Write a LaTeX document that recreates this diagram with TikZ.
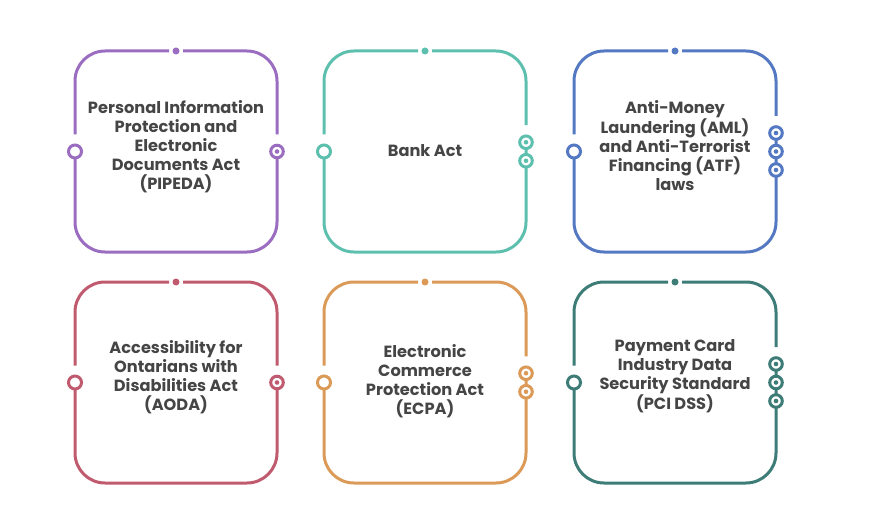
\documentclass[tikz,border=0pt]{standalone}
\usepackage{fontspec}
\setmainfont{Poppins}
\definecolor{lilac}{HTML}{9A6DC0}
\definecolor{sea}{HTML}{5DBFAE}
\definecolor{steel}{HTML}{5479C2}
\definecolor{rose}{HTML}{C05A6E}
\definecolor{amber}{HTML}{DB9A58}
\definecolor{pine}{HTML}{3E7D77}
\definecolor{ink}{HTML}{454545}
\tikzset{frame/.style={line width=3pt, rounded corners=30pt},
         ring/.style={line width=3pt, fill=white},
         lawtext/.style={align=center, text=ink, font=\bfseries\fontsize{16.2}{19}\selectfont}}

\begin{document}
\begin{tikzpicture}[x=1pt,y=1pt]
\useasboundingbox (0,0) rectangle (869,528);
\node[lawtext] (pipeda) at (176,381.5) {Personal Information\\Protection and\\Electronic\\Documents Act\\(PIPEDA)};
\node[lawtext] (bank)   at (425,377)   {Bank Act};
\node[lawtext] (aml)    at (675,382)   {Anti-Money\\Laundering (AML)\\and Anti-Terrorist\\Financing (ATF)\\laws};
\node[lawtext] (aoda)   at (176,151)   {Accessibility for\\Ontarians with\\Disabilities Act\\(AODA)};
\node[lawtext] (ecpa)   at (425,147)   {Electronic\\Commerce\\Protection Act\\(ECPA)};
\node[lawtext] (pci)    at (675,152)   {Payment Card\\Industry Data\\Security Standard\\(PCI DSS)};
\foreach \cx/\cy/\col/\n in {176/376.5/lilac/1, 425/376.5/sea/2, 675/376.5/steel/3,
                             176/145.5/rose/1, 425/145.5/amber/2, 675/145.5/pine/3}
{
  \pgfmathsetmacro\up{\cy+9.25*(\n-1)}
  \pgfmathsetmacro\cut{\up+17}
  % frame pieces
  \draw[\col,frame] (\cx+7,\cy+100.5) -- (\cx+101,\cy+100.5) -- (\cx+101,\cut);
  \draw[\col,frame] (\cx+101,\up) -- (\cx+101,\cy-100.5) -- (\cx-101,\cy-100.5) -- (\cx-101,\cy);
  \draw[\col,frame] (\cx-101,\cy+17) -- (\cx-101,\cy+100.5) -- (\cx-7,\cy+100.5);
  \fill[\col] (\cx,\cy+100.5) circle (3.5);
  \draw[\col,ring] (\cx-101,\cy) circle (6.5);
  \foreach \k in {1,...,\n}
  {
    \pgfmathsetmacro\ty{\cy+9.25*(\n+1-2*\k)}
    \draw[\col,ring] (\cx+101,\ty) circle (6.3);
    \fill[\col] (\cx+101,\ty) circle (2.3);
  }
}
\end{tikzpicture}
\end{document}
